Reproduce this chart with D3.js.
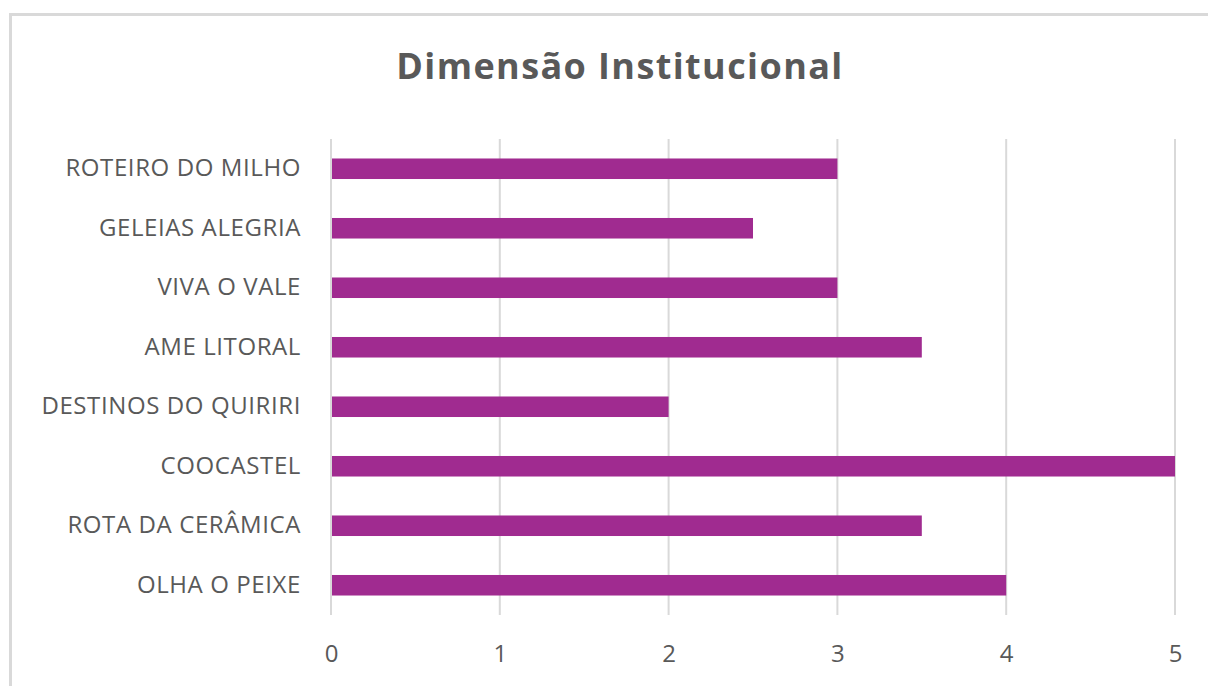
<!DOCTYPE html>
<html lang="pt">
<head>
    <meta charset="UTF-8">
    <title>Dimensão Institucional</title>
    <script src="https://d3js.org/d3.v7.min.js"></script>
    <style>
        body { margin: 0; background: white; }
        svg { display: block; }
        .tick text { fill: #595959; font-family: "Open Sans", sans-serif; }
    </style>
</head>
<body>
    <div id="chart"></div>
    <script>
        // data, top to bottom
        const categories = ["ROTEIRO DO MILHO", "GELEIAS ALEGRIA", "VIVA O VALE", "AME LITORAL",
            "DESTINOS DO QUIRIRI", "COOCASTEL", "ROTA DA CERÂMICA", "OLHA O PEIXE"];
        const values = [3, 2.5, 3, 3.5, 2, 5, 3.5, 4];
        const xTicks = [0, 1, 2, 3, 4, 5];

        const W = 1208, H = 686;
        const margin = { top: 139, right: 33, bottom: 71, left: 331 };
        const width = W - margin.left - margin.right,
              height = H - margin.top - margin.bottom;

        const svg = d3.select("#chart").append("svg")
            .attr("width", W)
            .attr("height", H);

        // chart frame (right and bottom edges are cut off)
        svg.append("rect")
            .attr("x", 10.5).attr("y", 14.5)
            .attr("width", W + 20).attr("height", H + 20)
            .attr("fill", "white")
            .attr("stroke", "#d9d9d9")
            .attr("stroke-width", 3);

        svg.append("text")
            .attr("x", 620).attr("y", 79)
            .attr("text-anchor", "middle")
            .attr("font-family", "Open Sans, sans-serif")
            .attr("font-weight", "bold")
            .attr("font-size", "36px")
            .attr("letter-spacing", "1.4px")
            .attr("fill", "#595959")
            .text("Dimensão Institucional");

        const g = svg.append("g")
            .attr("transform", `translate(${margin.left},${margin.top})`);

        const x = d3.scaleLinear().domain([0, 5]).range([0, width]);
        const y = d3.scaleBand().domain(categories).range([0, height])
            .paddingInner(0.655).paddingOuter(0.3275);

        // vertical gridlines
        g.selectAll(".grid")
            .data(xTicks)
            .enter().append("line")
            .attr("x1", d => x(d)).attr("x2", d => x(d))
            .attr("y1", 0).attr("y2", height)
            .attr("stroke", "#d9d9d9")
            .attr("stroke-width", 2);

        // bars
        g.selectAll(".bar")
            .data(values)
            .enter().append("rect")
            .attr("x", x(0) + 1)
            .attr("y", (d, i) => y(categories[i]))
            .attr("width", d => x(d) - x(0) - 1)
            .attr("height", y.bandwidth())
            .attr("fill", "#A02B90");

        // x axis labels
        const xAxis = g.append("g")
            .attr("transform", `translate(0,${height})`)
            .call(d3.axisBottom(x).tickValues(xTicks).tickFormat(d3.format("d"))
                .tickSize(0).tickPadding(30));
        xAxis.select(".domain").remove();
        xAxis.selectAll("text").attr("font-size", "24px");

        // category labels
        const yAxis = g.append("g")
            .call(d3.axisLeft(y).tickSize(0).tickPadding(30));
        yAxis.select(".domain").remove();
        yAxis.selectAll("text").attr("font-size", "24px").attr("letter-spacing", "0.6px");
    </script>
</body>
</html>
